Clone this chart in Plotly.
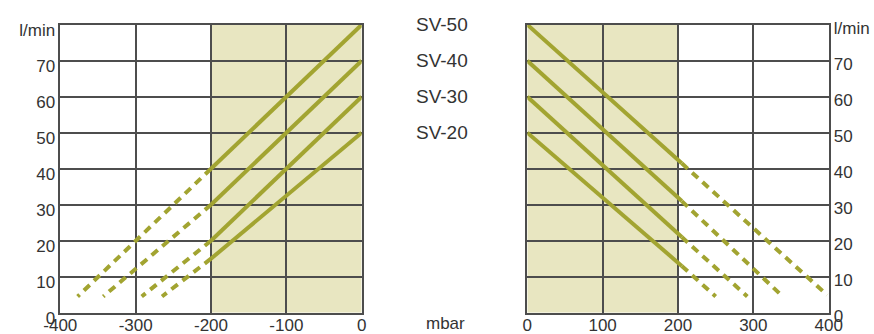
import plotly.graph_objects as go

# Flow rate (l/min) against pressure (mbar) for four valve sizes
models = ["SV-50", "SV-40", "SV-30", "SV-20"]

# Vacuum side (negative pressure): solid = working range, dashed = extension
vac_solid_x = [[-200, 0], [-200, 0], [-200, 0], [-200, 0]]
vac_solid_y = [[40, 80], [30, 70], [20, 60], [15, 50]]
vac_dash_x = [[-200, -377], [-200, -343], [-200, -292], [-200, -265]]
vac_dash_y = [[40, 4.5], [30, 4.5], [20, 4.5], [15, 4.5]]

# Pressure side
pr_solid_x = [[0, 205], [0, 205], [0, 205], [0, 205]]
pr_solid_y = [[80, 41.5], [70, 31], [60, 21], [50, 13]]
pr_dash_x = [[205, 398], [205, 339], [205, 292], [205, 250]]
pr_dash_y = [[41.5, 4.9], [31, 4.5], [21, 4.5], [13, 4.5]]

flow_ticks = [0, 10, 20, 30, 40, 50, 60, 70, 80]
flow_labels = ["0", "10", "20", "30", "40", "50", "60", "70", "l/min"]
vac_ticks = [-400, -300, -200, -100, 0]
vac_labels = ["-400", "-300", "-200", "-100", "0"]
pr_ticks = [0, 100, 200, 300, 400]
pr_labels = ["0", "100", "200", "300", "400"]
vac_shade = (-200, 0)
pr_shade = (0, 200)

LINE = "#a2a431"
SHADE = "#e8e6c1"
GRID = "#4d4d4d"
TEXT = "#333333"
FONT = "Liberation Sans, Arial, sans-serif"
TICK_SIZE = 17

fig = go.Figure()

for i, m in enumerate(models):
    fig.add_trace(go.Scatter(x=vac_solid_x[i], y=vac_solid_y[i], mode="lines",
                             line=dict(color=LINE, width=4), xaxis="x", yaxis="y",
                             showlegend=False, name=m))
    fig.add_trace(go.Scatter(x=vac_dash_x[i], y=vac_dash_y[i], mode="lines",
                             line=dict(color=LINE, width=4, dash="8px,6px"),
                             xaxis="x", yaxis="y", showlegend=False, name=m))
    fig.add_trace(go.Scatter(x=pr_solid_x[i], y=pr_solid_y[i], mode="lines",
                             line=dict(color=LINE, width=4), xaxis="x2", yaxis="y2",
                             showlegend=False, name=m))
    fig.add_trace(go.Scatter(x=pr_dash_x[i], y=pr_dash_y[i], mode="lines",
                             line=dict(color=LINE, width=4, dash="8px,6px"),
                             xaxis="x2", yaxis="y2", showlegend=False, name=m))

# Shaded working zones
fig.add_shape(type="rect", xref="x", yref="y", x0=vac_shade[0], x1=vac_shade[1],
              y0=0, y1=80, fillcolor=SHADE, line_width=0, layer="below")
fig.add_shape(type="rect", xref="x2", yref="y2", x0=pr_shade[0], x1=pr_shade[1],
              y0=0, y1=80, fillcolor=SHADE, line_width=0, layer="below")

axis_common = dict(showgrid=True, gridcolor=GRID, gridwidth=1.5, zeroline=False,
                   showline=True, linecolor=GRID, linewidth=1.5, mirror=True,
                   ticks="", automargin=False,
                   tickfont=dict(family=FONT, size=TICK_SIZE, color=TEXT))

fig.update_layout(
    width=874, height=334, margin=dict(l=0, r=0, t=0, b=0, autoexpand=False),
    paper_bgcolor="white", plot_bgcolor="white",
    xaxis=dict(domain=[60.3 / 874, 361.7 / 874], range=[-400, 0], tickvals=vac_ticks,
               ticktext=vac_labels, anchor="y", ticklabelstandoff=-4, **axis_common),
    yaxis=dict(domain=[21.3 / 334, 309.3 / 334], range=[0, 80], tickvals=flow_ticks,
               ticktext=flow_labels, anchor="x", ticklabelshift=5, **axis_common),
    xaxis2=dict(domain=[527.3 / 874, 828.7 / 874], range=[0, 400], tickvals=pr_ticks,
                ticktext=pr_labels, anchor="y2", ticklabelstandoff=-4, **axis_common),
    yaxis2=dict(domain=[21.3 / 334, 309.3 / 334], range=[0, 80], tickvals=flow_ticks,
                ticktext=flow_labels, anchor="x2", side="right", ticklabelshift=3,
                **axis_common),
)

for m, yv in zip(models, [80, 70, 60, 50]):
    fig.add_annotation(text=m, xref="paper", yref="y", x=441.7 / 874, y=yv,
                       showarrow=False, xanchor="center", yanchor="middle",
                       font=dict(family=FONT, size=19, color=TEXT))

fig.add_annotation(text="mbar", xref="paper", yref="paper", x=445.7 / 874,
                   y=(334 - 323.5) / 334, showarrow=False, xanchor="center",
                   yanchor="middle", font=dict(family=FONT, size=TICK_SIZE, color=TEXT))

fig.write_html("out.html")
